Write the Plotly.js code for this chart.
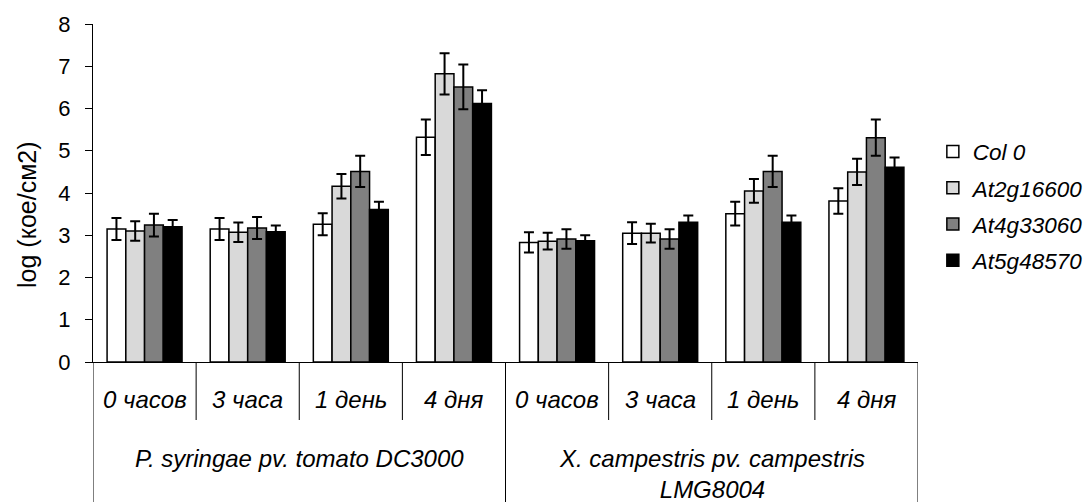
<!DOCTYPE html>
<html>
<head>
<meta charset="utf-8">
<script src="https://cdn.plot.ly/plotly-3.0.1.min.js"></script>
<style>html,body{margin:0;padding:0;background:#fff;}#chart{width:1089px;height:502px;}</style>
</head>
<body>
<div id="chart"></div>
<script>
// Categories
var timeLabels = ['0 часов', '3 часа', '1 день', '4 дня', '0 часов', '3 часа', '1 день', '4 дня'];
var groupLabels = ['P. syringae pv. tomato DC3000', 'X. campestris pv. campestris<br>LMG8004'];
var seriesNames = ['Col 0', 'At2g16600', 'At4g33060', 'At5g48570'];
var yTitle = 'log (кое/см2)';

// Values (log CFU/cm2)
var col0 = [3.15, 3.15, 3.26, 5.32, 2.83, 3.05, 3.51, 3.81];
var at2g16600 = [3.10, 3.07, 4.16, 6.82, 2.86, 3.05, 4.05, 4.50];
var at4g33060 = [3.24, 3.17, 4.51, 6.51, 2.91, 2.91, 4.51, 5.31];
var at5g48570 = [3.20, 3.08, 3.61, 6.12, 2.87, 3.31, 3.31, 4.61];

// Error bars
var col0Err = [0.26, 0.26, 0.26, 0.42, 0.24, 0.26, 0.28, 0.30];
var at2g16600Err = [0.23, 0.23, 0.29, 0.49, 0.20, 0.22, 0.28, 0.31];
var at4g33060Err = [0.27, 0.26, 0.37, 0.53, 0.23, 0.23, 0.37, 0.43];
var at5g48570Err = [0.16, 0.15, 0.18, 0.31, 0.13, 0.16, 0.16, 0.23];

var values = [col0, at2g16600, at4g33060, at5g48570];
var errs = [col0Err, at2g16600Err, at4g33060Err, at5g48570Err];
var colors = ['#ffffff', '#d9d9d9', '#808080', '#000000'];

var xIdx = timeLabels.map(function (_, i) { return i; });

var traces = values.map(function (v, k) {
  return {
    type: 'bar',
    name: seriesNames[k],
    x: xIdx,
    y: v,
    legendgroup: 'g' + k,
    marker: { color: colors[k], line: { color: '#000', width: 1.5 } },
    error_y: { type: 'data', array: errs[k], visible: true, color: '#000', thickness: 2, width: 5 },
    hoverinfo: 'skip'
  };
});

var FONT = 'Liberation Sans, Arial, sans-serif';
var lineSep = -0.1716, lineBottom = -0.42;
var shapes = [];
for (var b = -0.5; b <= 7.5; b += 1) {
  var long = (b === -0.5 || b === 3.5 || b === 7.5);
  shapes.push({ type: 'line', xref: 'x', yref: 'paper', x0: b, x1: b, y0: 0, y1: long ? lineBottom : lineSep,
    line: { color: '#000', width: 1 } });
}

var annotations = timeLabels.map(function (t, i) {
  return { xref: 'x', yref: 'paper', x: i, y: -0.1124, yanchor: 'middle', xanchor: 'center',
    text: t, showarrow: false, font: { family: FONT, size: 24, color: '#000', style: 'italic' } };
});
groupLabels.forEach(function (g, j) {
  annotations.push({ xref: 'x', yref: 'paper', x: 1.5 + 4 * j, y: -0.24, yanchor: 'top', xanchor: 'center',
    text: g, showarrow: false, font: { family: FONT, size: 24, color: '#000', style: 'italic' } });
});
annotations.push({ xref: 'paper', yref: 'paper', x: -0.08, y: 0.435, xanchor: 'center', yanchor: 'middle',
  textangle: -90, text: yTitle, showarrow: false, font: { family: FONT, size: 25, color: '#000' } });

var layout = {
  width: 1089, height: 502,
  margin: { l: 93, r: 171, t: 24, b: 140, autoexpand: false },
  paper_bgcolor: '#fff', plot_bgcolor: '#fff',
  barmode: 'group', bargap: 0.273, bargroupgap: 0,
  font: { family: FONT, color: '#000' },
  xaxis: { range: [-0.5, 7.5], showticklabels: false, ticks: '', showgrid: false, zeroline: false,
    showline: true, linecolor: '#000', linewidth: 1, fixedrange: true },
  yaxis: { range: [0, 8], dtick: 1, tick0: 0, ticks: 'outside', ticklen: 7, tickwidth: 1, tickcolor: '#000',
    showgrid: false, zeroline: false, showline: true, linecolor: '#000', linewidth: 1,
    ticklabelstandoff: 10,
    tickfont: { family: FONT, size: 22, color: '#000' } },
  showlegend: true,
  legend: { x: 1.018, y: 0.685, xanchor: 'left', yanchor: 'top', tracegroupgap: 4,
    font: { family: FONT, size: 22.5, color: '#000', style: 'italic' }, itemwidth: 30, bgcolor: 'rgba(0,0,0,0)' },
  shapes: shapes,
  annotations: annotations
};

Plotly.newPlot('chart', traces, layout, { displayModeBar: false, staticPlot: true });
</script>
</body>
</html>
